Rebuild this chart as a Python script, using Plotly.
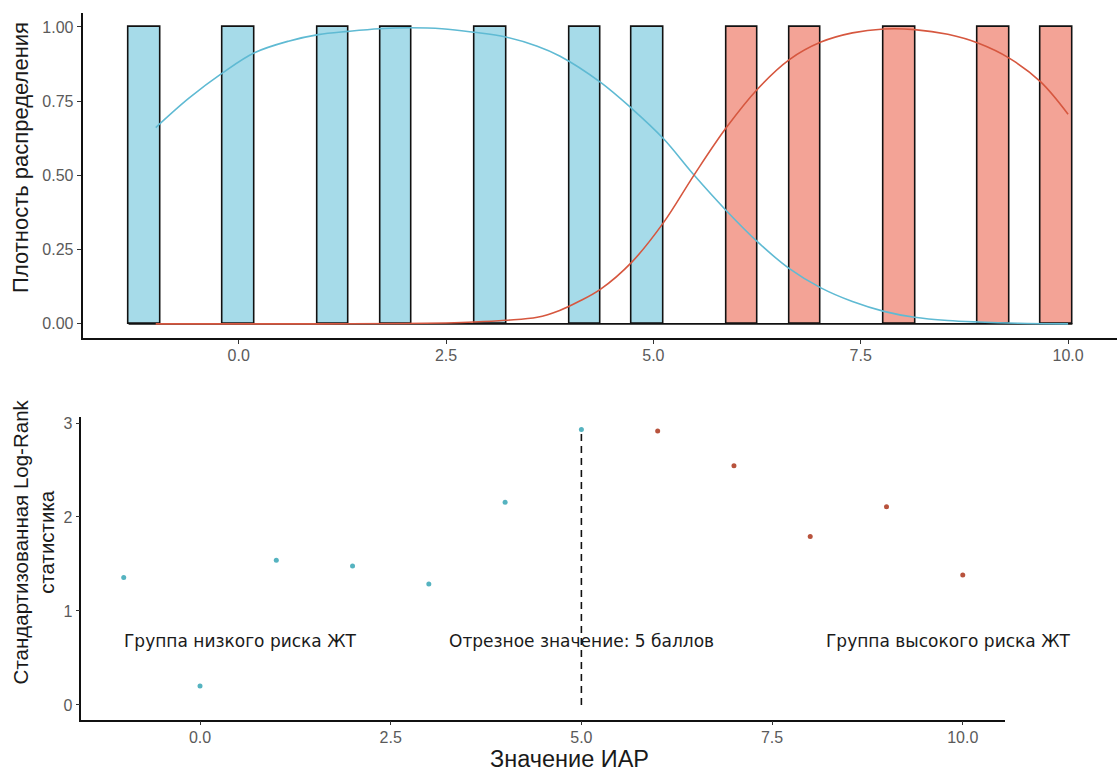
import plotly.graph_objects as go

W, H = 1117, 771

# ---- data -----------------------------------------------------------------
# IAR scores of patients split by the cut-off (<=5 low risk, >5 high risk)
low_scores = [-1, 0, 1, 2, 3, 4, 5]
high_scores = [6, 7, 8, 9, 10]

# smoothed (scaled) density curves for each group
low_dens_x = [-1, -0.6, -0.19, 0.19, 0.6, 0.96, 1.32, 1.7, 2.07, 2.45, 2.84, 3.22,
              3.6, 3.87, 4.36, 4.74, 5.12, 5.49, 5.88, 6.26, 6.64, 7.02, 7.4,
              7.78, 8.15, 8.55, 8.92, 9.4, 10]
low_dens_y = [0.661, 0.76, 0.846, 0.913, 0.952, 0.974, 0.985, 0.994, 0.997, 0.994,
              0.982, 0.966, 0.935, 0.902, 0.814, 0.725, 0.624, 0.501, 0.381, 0.275,
              0.186, 0.121, 0.075, 0.042, 0.022, 0.011, 0.006, 0.002, 0.0]
high_dens_x = [-1, 0, 1, 2, 2.5, 2.84, 3.22, 3.6, 3.87, 4.1, 4.36, 4.74, 5.12, 5.49,
               5.88, 6.26, 6.64, 7.02, 7.4, 7.78, 8.15, 8.55, 8.92, 9.29, 9.67, 10]
high_dens_y = [0, 0, 0, 0.001, 0.003, 0.006, 0.012, 0.022, 0.045, 0.075, 0.116,
               0.208, 0.34, 0.501, 0.661, 0.792, 0.89, 0.949, 0.98, 0.993, 0.991,
               0.975, 0.945, 0.895, 0.815, 0.706]

# standardized log-rank statistic for every candidate cut-off
cutoffs = [-1, 0, 1, 2, 3, 4, 5, 6, 7, 8, 9, 10]
logrank_stat = [1.355, 0.201, 1.539, 1.479, 1.288, 2.156, 2.93,
                2.915, 2.545, 1.793, 2.11, 1.383]
best_cutoff = 5

# ---- styling --------------------------------------------------------------
LOW_FILL, HIGH_FILL = "#a6dbe9", "#f3a396"
LOW_LINE, HIGH_LINE = "#5fbad3", "#d6573f"
LOW_PT, HIGH_PT = "#55b3c0", "#b8533d"
AX_FONT = "Liberation Sans, Arial, sans-serif"
ANN_FONT = "DejaVu Sans, Verdana, sans-serif"

# 30 bins over the score range, centred on multiples of the bin width
bw = (max(high_scores) - min(low_scores)) / 29
first_edge = bw * (round(min(low_scores) / bw) - 0.5)
last_edge = bw * (round(max(high_scores) / bw) + 0.5)

fig = go.Figure()

hist_style = dict(xbins=dict(start=first_edge, end=last_edge, size=bw),
                  xaxis="x", yaxis="y", showlegend=False, hoverinfo="skip")
fig.add_trace(go.Histogram(x=low_scores, marker=dict(color=LOW_FILL, line=dict(color="#111", width=1.6)),
                           **hist_style))
fig.add_trace(go.Histogram(x=high_scores, marker=dict(color=HIGH_FILL, line=dict(color="#111", width=1.6)),
                           **hist_style))
# outline of the empty bins along the base
fig.add_trace(go.Scatter(x=[first_edge, last_edge], y=[0, 0], mode="lines",
                         line=dict(color="#111", width=1.6), xaxis="x", yaxis="y",
                         showlegend=False, hoverinfo="skip"))
fig.add_trace(go.Scatter(x=low_dens_x, y=low_dens_y, mode="lines", line_shape="spline",
                         line=dict(color=LOW_LINE, width=1.6), xaxis="x", yaxis="y",
                         showlegend=False))
fig.add_trace(go.Scatter(x=high_dens_x, y=high_dens_y, mode="lines", line_shape="spline",
                         line=dict(color=HIGH_LINE, width=1.6), xaxis="x", yaxis="y",
                         showlegend=False))

# ---- bottom panel: log-rank statistic ---------------------------------------
low_idx = [i for i, c in enumerate(cutoffs) if c <= best_cutoff]
high_idx = [i for i, c in enumerate(cutoffs) if c > best_cutoff]
fig.add_trace(go.Scatter(x=[cutoffs[i] for i in low_idx], y=[logrank_stat[i] for i in low_idx],
                         mode="markers", marker=dict(color=LOW_PT, size=5),
                         xaxis="x2", yaxis="y2", showlegend=False))
fig.add_trace(go.Scatter(x=[cutoffs[i] for i in high_idx], y=[logrank_stat[i] for i in high_idx],
                         mode="markers", marker=dict(color=HIGH_PT, size=5),
                         xaxis="x2", yaxis="y2", showlegend=False))
best_stat = logrank_stat[cutoffs.index(best_cutoff)]
fig.add_trace(go.Scatter(x=[best_cutoff, best_cutoff], y=[0, best_stat], mode="lines",
                         line=dict(color="#111", width=1.6, dash="7px,5px"),
                         xaxis="x2", yaxis="y2", showlegend=False))

label_y = 0.685
for x, txt in [(0.52, "Группа низкого риска ЖТ"),
               (best_cutoff, f"Отрезное значение: {best_cutoff} баллов"),
               (9.81, "Группа высокого риска ЖТ")]:
    fig.add_annotation(x=x, y=label_y, xref="x2", yref="y2", text=txt, showarrow=False,
                       xanchor="center", yanchor="middle",
                       font=dict(family=ANN_FONT, size=17, color="#1a1a1a"))

# axis titles
fig.add_annotation(x=20.5 / W, y=1 - 155 / H, xref="paper", yref="paper",
                   text="Плотность распределения", textangle=-90, showarrow=False,
                   xanchor="center", yanchor="middle",
                   font=dict(family=AX_FONT, size=22, color="#1a1a1a"))
fig.add_annotation(x=33.5 / W, y=1 - 541 / H, xref="paper", yref="paper",
                   text="Стандартизованная Log-Rank<br>статистика", textangle=-90,
                   showarrow=False, xanchor="center", yanchor="middle",
                   font=dict(family=AX_FONT, size=20.5, color="#1a1a1a"))
fig.add_annotation(x=569.5 / W, y=1 - 759 / H, xref="paper", yref="paper",
                   text="Значение ИАР", showarrow=False, xanchor="center", yanchor="middle",
                   font=dict(family=AX_FONT, size=23.5, color="#1a1a1a"))

axis_common = dict(showline=True, linecolor="#111", linewidth=1.6, showgrid=False,
                   zeroline=False, ticks="outside", ticklen=4, tickwidth=1.2,
                   tickcolor="#333", tickfont=dict(family=AX_FONT, size=16, color="#5a5a5a"))

fig.update_layout(
    width=W, height=H, margin=dict(l=0, r=0, t=0, b=0),
    paper_bgcolor="white", plot_bgcolor="white",
    barmode="overlay", bargap=0,
    xaxis=dict(domain=[82.5 / W, 1.0], range=[-1.883, 10.59], anchor="y",
               tickvals=[0, 2.5, 5, 7.5, 10], ticktext=["0.0", "2.5", "5.0", "7.5", "10.0"],
               ticklabelstandoff=-2, **axis_common),
    yaxis=dict(domain=[1 - 336.7 / H, 1 - 10 / H], range=[-0.049, 1.047], anchor="x",
               tickvals=[0, 0.25, 0.5, 0.75, 1.0],
               ticktext=["0.00", "0.25", "0.50", "0.75", "1.00"], **axis_common),
    xaxis2=dict(domain=[81.4 / W, 1004.5 / W], range=[-1.555, 10.547], anchor="y2",
                tickvals=[0, 2.5, 5, 7.5, 10], ticktext=["0.0", "2.5", "5.0", "7.5", "10.0"],
                ticklabelstandoff=-2, **axis_common),
    yaxis2=dict(domain=[1 - 719.3 / H, 1 - 416 / H], range=[-0.155, 3.06], anchor="x2",
                tickvals=[0, 1, 2, 3], ticktext=["0", "1", "2", "3"], **axis_common),
)

fig.write_html("out.html")
